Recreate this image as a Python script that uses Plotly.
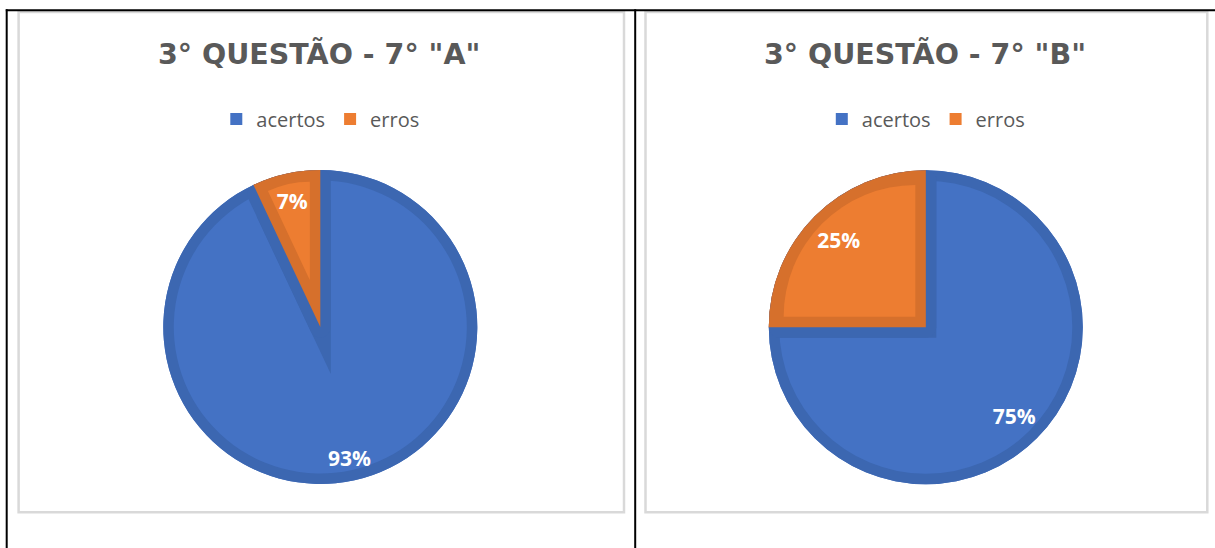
import math
import plotly.graph_objects as go

W, H = 1215, 548

# dados
categorias = ["acertos", "erros"]
turma_a = [93, 7]
turma_b = [75, 25]
titulos = ['3° QUESTÃO - 7° "A"', '3° QUESTÃO - 7° "B"']

azul, laranja = "#4472C4", "#ED7D31"
azul_esc, laranja_esc = "#3C67B1", "#D6702C"
transp = "rgba(0,0,0,0)"
cinza_txt = "#595959"

R = 157      # raio da pizza (px)
BORDA = 10.5  # largura da borda interna escura
fonte_rotulo = dict(family="Open Sans", size=21, color="white", weight="bold")


def dominio(cx, cy, r):
    return dict(x=[(cx - r) / W, (cx + r) / W],
                y=[1 - (cy + r) / H, 1 - (cy - r) / H])


def pizza(valores, cx, cy, r, cores, grupo, linha=None, **kw):
    marker = dict(colors=cores)
    if linha:
        marker["line"] = linha
    kw.setdefault("textinfo", "none")
    kw.setdefault("showlegend", False)
    return go.Pie(labels=categorias, values=valores, sort=False,
                  direction="clockwise", rotation=0,
                  domain=dominio(cx, cy, r), marker=marker,
                  hoverinfo="skip", legend=grupo[0], legendgroup=grupo[1], **kw)


def painel(fig, valores, cx, cy, grupo, dist_a, dist_b):
    total = sum(valores)
    fa, fb = valores[0] / total, valores[1] / total
    ang = 2 * math.pi * (fa + fb / 2)
    bx, by = math.sin(ang), -math.cos(ang)
    s = BORDA / math.sin(math.pi * fb)

    # legenda (fica por baixo de tudo)
    fig.add_trace(pizza(valores, cx, cy, R, [azul, laranja], grupo, showlegend=True))
    # pizza escura completa
    fig.add_trace(pizza(valores, cx, cy, R, [azul_esc, laranja_esc], grupo))
    # interior azul
    fig.add_trace(pizza(valores, cx, cy, R - BORDA, [azul, transp], grupo))
    # ponta escura do lado azul junto ao vertice
    ex, ey = cx - s * bx, cy - s * by
    r_exp = min(R - BORDA + s, ex, W - ex, ey, H - ey)
    fig.add_trace(pizza(valores, ex, ey, r_exp, [transp, azul_esc], grupo))
    # faixa escura azul ao longo das bordas radiais
    fig.add_trace(pizza(valores, cx, cy, R - BORDA, [transp, transp], grupo,
                        linha=dict(color=[transp, azul_esc], width=[0, 2 * BORDA])))
    # fatia laranja escura
    fig.add_trace(pizza(valores, cx, cy, R, [transp, laranja_esc], grupo))
    # interior laranja
    fig.add_trace(pizza(valores, cx + s * bx, cy + s * by, R - BORDA - s,
                        [transp, laranja], grupo))

    # rotulos: fatia grande (anel, texto no meio do anel)
    rt = 170
    furo = 2 * dist_a / rt - 1
    fig.add_trace(pizza(valores, cx, cy, rt, [transp, transp], grupo, hole=furo,
                        texttemplate=["%{percent}", ""], textposition="inside",
                        insidetextorientation="horizontal",
                        insidetextfont=fonte_rotulo))
    # rotulos: fatia pequena
    r_ins = min(1 / (1 + 1 / math.sin(math.pi * fb)), 0.5)
    fig.add_trace(pizza(valores, cx, cy, dist_b / (1 - r_ins), [transp, transp], grupo,
                        texttemplate=["", "%{percent}"], textposition="inside",
                        insidetextorientation="horizontal",
                        insidetextfont=fonte_rotulo))


fig = go.Figure()
painel(fig, turma_a, 320.3, 327, ("legend", "a"), 134, 129)
painel(fig, turma_b, 925.8, 327.2, ("legend2", "b"), 125, 123)

leg = dict(orientation="h", xanchor="center", yanchor="middle", y=1 - 119 / H,
           traceorder="normal",
           font=dict(family="Open Sans", size=20, color=cinza_txt),
           bgcolor=transp, itemclick=False, itemdoubleclick=False)

anots = []
for titulo, cx in zip(titulos, [319, 925]):
    anots.append(dict(text=titulo, x=cx / W, y=1 - 54 / H, xref="paper", yref="paper",
                      xanchor="center", yanchor="middle", showarrow=False,
                      font=dict(family="DejaVu Sans", size=28.5, color=cinza_txt,
                                weight="bold")))

formas = []
# caixas dos graficos
for x0, x1 in [(18.6, 624), (645.5, 1207.3)]:
    formas.append(dict(type="rect", xref="paper", yref="paper",
                       x0=x0 / W, x1=x1 / W, y0=1 - 512.3 / H, y1=1 - 12 / H,
                       line=dict(color="#D9D9D9", width=2.5)))
# linhas da tabela
formas.append(dict(type="line", xref="paper", yref="paper", x0=5.8 / W, x1=1,
                   y0=1 - 10.3 / H, y1=1 - 10.3 / H, line=dict(color="black", width=2)))
for x in [6.7, 635.2]:
    formas.append(dict(type="line", xref="paper", yref="paper", x0=x / W, x1=x / W,
                       y0=0, y1=1 - 9.3 / H, line=dict(color="black", width=2)))

fig.update_layout(
    width=W, height=H,
    margin=dict(l=0, r=0, t=0, b=0),
    paper_bgcolor="white", plot_bgcolor="white",
    legend=dict(leg, x=320.3 / W),
    legend2=dict(leg, x=925.8 / W),
    annotations=anots,
    shapes=formas,
)

fig.write_html("out.html", config={"displayModeBar": False},
               post_script="document.body.style.margin='0';")
